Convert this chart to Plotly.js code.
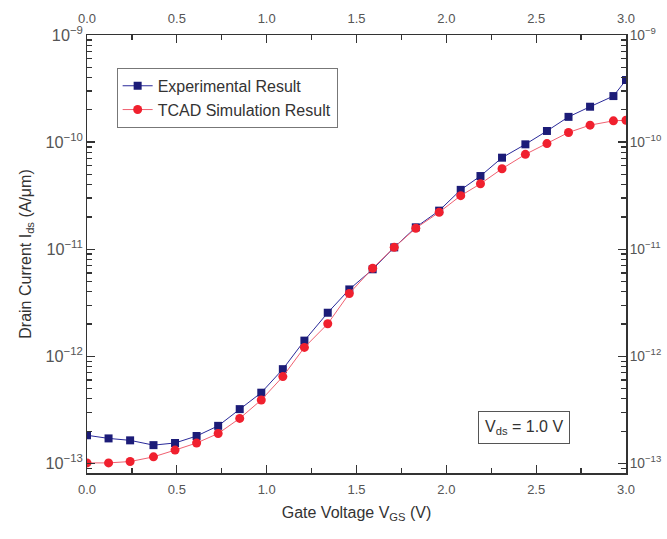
<!DOCTYPE html>
<html>
<head>
<meta charset="utf-8">
<script src="https://cdn.plot.ly/plotly-3.0.1.min.js"></script>
<style>html,body{margin:0;padding:0;background:#fff;}#chart{width:667px;height:539px;}</style>
</head>
<body>
<div id="chart"></div>
<script>
// Gate voltage (V)
const gateVoltage = [0.00, 0.12, 0.24, 0.37, 0.49, 0.61, 0.73, 0.85, 0.97, 1.09, 1.21, 1.34, 1.46,
  1.59, 1.71, 1.83, 1.96, 2.08, 2.19, 2.31, 2.44, 2.56, 2.68, 2.80, 2.93, 3.00];
// Drain current (A/um)
const experimental = [1.83e-13, 1.71e-13, 1.64e-13, 1.48e-13, 1.55e-13, 1.80e-13, 2.24e-13, 3.21e-13,
  4.57e-13, 7.58e-13, 1.40e-12, 2.55e-12, 4.21e-12, 6.49e-12, 1.04e-11, 1.60e-11, 2.29e-11, 3.58e-11,
  4.82e-11, 7.15e-11, 9.53e-11, 1.27e-10, 1.72e-10, 2.14e-10, 2.69e-10, 3.80e-10];
const tcad = [1.01e-13, 1.01e-13, 1.04e-13, 1.15e-13, 1.33e-13, 1.55e-13, 1.90e-13, 2.63e-13,
  3.91e-13, 6.46e-13, 1.21e-12, 2.01e-12, 3.86e-12, 6.64e-12, 1.04e-11, 1.57e-11, 2.21e-11, 3.16e-11,
  4.08e-11, 5.64e-11, 7.68e-11, 9.68e-11, 1.23e-10, 1.44e-10, 1.58e-10, 1.60e-10];
const seriesNames = ["Experimental Result", "TCAD Simulation Result"];
const xTitle = "Gate Voltage V<sub>GS</sub> (V)";
const yTitle = "Drain Current I<sub>ds</sub> (A/μm)";
const noteText = "V<sub>ds</sub> = 1.0 V";
const decades = [-14, -13, -12, -11, -10];

const xRange = [0, 3];
const yRange = [-13.09, -9];
const fontFam = "Liberation Sans, Arial, sans-serif";
const tickCol = "#555";

// minor tick positions on the log axis (2..9 x 10^n)
const minorVals = [];
decades.forEach(d => { for (let m = 2; m <= 9; m++) minorVals.push(m * Math.pow(10, d)); });

const hidden = {type: "scatter", mode: "lines", line: {width: 0, color: "rgba(0,0,0,0)"},
  showlegend: false, hoverinfo: "skip"};

const traces = [
  {x: gateVoltage, y: experimental, name: seriesNames[0], type: "scatter", mode: "lines+markers",
   line: {color: "#2a2a9a", width: 1}, marker: {symbol: "square", size: 8, color: "#1c1c78"}},
  {x: gateVoltage, y: tcad, name: seriesNames[1], type: "scatter", mode: "lines+markers",
   line: {color: "#f06070", width: 1}, marker: {symbol: "circle", size: 9, color: "#f0202e"}},
  Object.assign({x: gateVoltage, y: tcad, xaxis: "x2", yaxis: "y2"}, hidden),
  Object.assign({x: gateVoltage, y: tcad, xaxis: "x", yaxis: "y3"}, hidden),
  Object.assign({x: gateVoltage, y: tcad, xaxis: "x2", yaxis: "y4"}, hidden)
];

const axCommon = {
  showline: true, linecolor: "#333", linewidth: 1.5, ticks: "inside", tickcolor: "#333",
  tickwidth: 1.2, ticklen: 8, showgrid: false, zeroline: false,
  tickfont: {family: fontFam, size: 13, color: tickCol}
};
const minorAxis = {type: "log", range: yRange, overlaying: "y", tickmode: "array", tickvals: minorVals,
  showticklabels: false, ticks: "inside", ticklen: 5, tickcolor: "#333", tickwidth: 1.2,
  showline: false, showgrid: false, zeroline: false};
const xMinor = {dtick: 0.25, tick0: 0, ticks: "inside", ticklen: 5, tickcolor: "#333", tickwidth: 1.2, showgrid: false};

const layout = {
  width: 667, height: 539,
  margin: {l: 87, r: 41, t: 35, b: 66},
  paper_bgcolor: "#fff", plot_bgcolor: "#fff",
  showlegend: true,
  legend: {x: 0.055, y: 0.925, xanchor: "left", yanchor: "top", bgcolor: "#fff",
    bordercolor: "#777", borderwidth: 1, font: {family: fontFam, size: 16, color: "#333"},
    tracegroupgap: 0},
  xaxis: Object.assign({}, axCommon, {range: xRange, dtick: 0.5, tick0: 0, tickformat: ".1f",
    ticklabelstandoff: 4, minor: xMinor,
    title: {text: xTitle, font: {family: fontFam, size: 16, color: "#333"}, standoff: 10}}),
  yaxis: Object.assign({}, axCommon, {type: "log", range: yRange, dtick: 1, exponentformat: "power",
    title: {text: yTitle, font: {family: fontFam, size: 16, color: "#333"}, standoff: 10}}),
  xaxis2: Object.assign({}, axCommon, {range: xRange, dtick: 0.5, tick0: 0, tickformat: ".1f",
    overlaying: "x", side: "top", anchor: "y2", ticklabelstandoff: 5, minor: xMinor}),
  yaxis2: Object.assign({}, axCommon, {type: "log", range: yRange, dtick: 1, exponentformat: "power",
    overlaying: "y", side: "right", anchor: "x2",
    tickfont: {family: fontFam, size: 11, color: tickCol}}),
  yaxis3: Object.assign({}, minorAxis, {side: "left", anchor: "x"}),
  yaxis4: Object.assign({}, minorAxis, {side: "right", anchor: "x2"}),
  annotations: [{
    xref: "paper", yref: "paper", x: 0.81, y: 0.105, xanchor: "center", yanchor: "middle",
    text: noteText, showarrow: false, font: {family: fontFam, size: 16, color: "#333"},
    bordercolor: "#555", borderwidth: 1, borderpad: 6, bgcolor: "#fff"
  }]
};

Plotly.newPlot("chart", traces, layout, {displayModeBar: false, staticPlot: true});
</script>
</body>
</html>
